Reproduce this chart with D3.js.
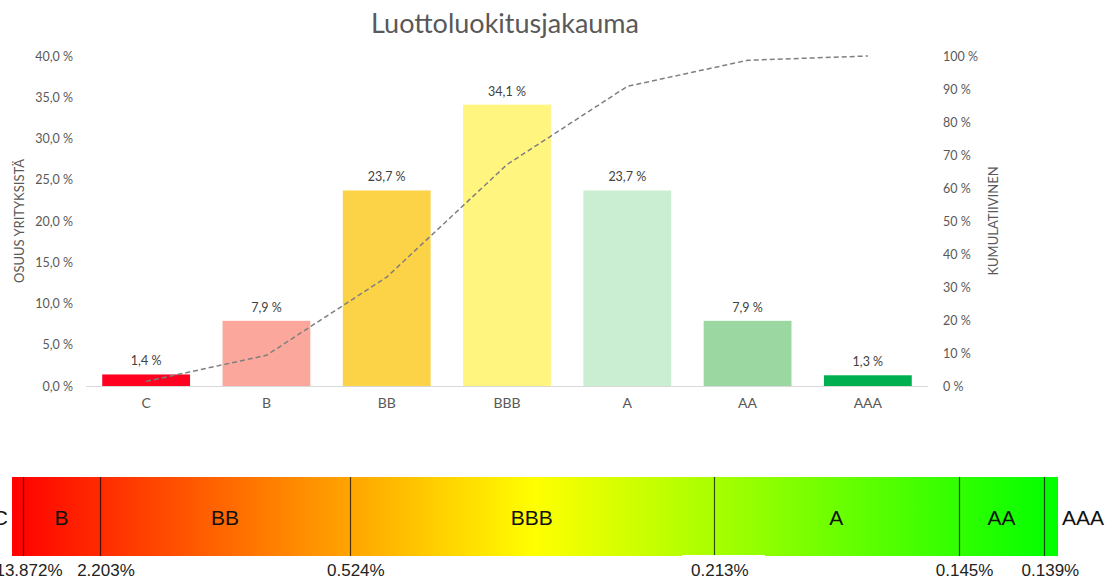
<!DOCTYPE html>
<html>
<head>
<meta charset="utf-8">
<script src="https://cdn.jsdelivr.net/npm/d3@7"></script>
<style>
  html, body { margin: 0; padding: 0; background: #fff; }
  svg { display: block; }
</style>
</head>
<body>
<svg id="chart" width="1116" height="580"></svg>
<script>
// ---- data ----
const categories = ["C", "B", "BB", "BBB", "A", "AA", "AAA"];
const shares = [1.4, 7.9, 23.7, 34.1, 23.7, 7.9, 1.3];
const shareLabels = ["1,4 %", "7,9 %", "23,7 %", "34,1 %", "23,7 %", "7,9 %", "1,3 %"];
const cumulative = [1.4, 9.3, 33.0, 67.1, 90.8, 98.7, 100.0];
const barColors = ["#FF0021", "#FBA79B", "#FCD246", "#FFF57F", "#CAEED1", "#9AD7A1", "#00B050"];
const leftTicks = [0, 5, 10, 15, 20, 25, 30, 35, 40];
const rightTicks = [0, 10, 20, 30, 40, 50, 60, 70, 80, 90, 100];

// scale bar (bottom)
const bandLabels = ["C", "B", "BB", "BBB", "A", "AA", "AAA"];
const dividerPos = [1.05, 8.41, 32.3, 67.1, 90.5, 98.7];   // % of bar width
const thresholdLabels = ["13.872%", "2.203%", "0.524%", "0.213%", "0.145%", "0.139%"];

const svg = d3.select("#chart");
const font = "Lato, 'Open Sans', sans-serif";

// ---- top chart ----
const plot = { left: 86, right: 928, top: 56, bottom: 386 };

const x = d3.scaleBand().domain(categories).range([plot.left, plot.right])
  .paddingInner(0.27).paddingOuter(0.135);
const yL = d3.scaleLinear().domain([0, 40]).range([plot.bottom, plot.top]);
const yR = d3.scaleLinear().domain([0, 100]).range([plot.bottom, plot.top]);

// title
svg.append("text").attr("x", 505).attr("y", 33)
  .attr("text-anchor", "middle").attr("font-family", font)
  .attr("font-size", 27).attr("fill", "#595959").text("Luottoluokitusjakauma");

// left axis
const gL = svg.append("g").attr("transform", `translate(${plot.left},0)`)
  .call(d3.axisLeft(yL).tickValues(leftTicks).tickSize(0).tickPadding(13)
    .tickFormat(d => d.toFixed(1).replace(".", ",") + " %"));
gL.select(".domain").remove();
gL.selectAll("text").attr("font-family", font).attr("font-size", 12.5).attr("fill", "#595959");

// right axis
const gR = svg.append("g").attr("transform", `translate(${plot.right},0)`)
  .call(d3.axisRight(yR).tickValues(rightTicks).tickSize(0).tickPadding(15)
    .tickFormat(d => d + " %"));
gR.select(".domain").remove();
gR.selectAll("text").attr("font-family", font).attr("font-size", 12.5).attr("fill", "#595959");

// bars
svg.append("g").selectAll("rect").data(categories).join("rect")
  .attr("x", d => x(d)).attr("width", x.bandwidth())
  .attr("y", (d, i) => yL(shares[i]))
  .attr("height", (d, i) => yL(0) - yL(shares[i]))
  .attr("fill", (d, i) => barColors[i]);

// baseline
svg.append("line").attr("x1", plot.left).attr("x2", plot.right)
  .attr("y1", plot.bottom + 0.5).attr("y2", plot.bottom + 0.5)
  .attr("stroke", "#D9D9D9").attr("stroke-width", 1);

// category labels
const gX = svg.append("g").attr("transform", `translate(0,${plot.bottom})`)
  .call(d3.axisBottom(x).tickSize(0).tickPadding(12));
gX.select(".domain").remove();
gX.selectAll("text").attr("font-family", font).attr("font-size", 14).attr("fill", "#595959");

// data labels
svg.append("g").selectAll("text").data(categories).join("text")
  .attr("x", d => x(d) + x.bandwidth() / 2)
  .attr("y", (d, i) => yL(shares[i]) - 9)
  .attr("text-anchor", "middle").attr("font-family", font).attr("font-size", 12.5)
  .attr("fill", "#404040").text((d, i) => shareLabels[i]);

// cumulative line
const line = d3.line()
  .x((d, i) => x(categories[i]) + x.bandwidth() / 2)
  .y(d => yR(d));
svg.append("path").datum(cumulative).attr("d", line)
  .attr("fill", "none").attr("stroke", "#7F7F7F").attr("stroke-width", 1.5)
  .attr("stroke-dasharray", "5,3");

// axis titles
svg.append("text").attr("transform", "translate(24,221) rotate(-90)")
  .attr("text-anchor", "middle").attr("font-family", font).attr("font-size", 13)
  .attr("fill", "#595959").text("OSUUS YRITYKSISTÄ");
svg.append("text").attr("transform", "translate(998,221) rotate(-90)")
  .attr("text-anchor", "middle").attr("font-family", font).attr("font-size", 13)
  .attr("fill", "#595959").text("KUMULATIIVINEN");

// ---- bottom gradient scale ----
const sx = d3.scaleLinear().domain([0, 100]).range([12, 1058]);
const barTop = 477, barBottom = 556;
const grad = svg.append("defs").append("linearGradient").attr("id", "rg")
  .attr("x1", "0%").attr("x2", "100%").attr("y1", "0%").attr("y2", "0%");
grad.append("stop").attr("offset", "0%").attr("stop-color", "#FF0000");
grad.append("stop").attr("offset", "50%").attr("stop-color", "#FFFF00");
grad.append("stop").attr("offset", "100%").attr("stop-color", "#00FF00");

svg.append("rect").attr("x", sx(0)).attr("y", barTop)
  .attr("width", sx(100) - sx(0)).attr("height", barBottom - barTop)
  .attr("fill", "url(#rg)");

svg.append("g").selectAll("line").data(dividerPos).join("line")
  .attr("x1", d => Math.round(sx(d)) + 0.5).attr("x2", d => Math.round(sx(d)) + 0.5)
  .attr("y1", barTop).attr("y2", barBottom)
  .attr("stroke", "#000").attr("stroke-opacity", 0.7).attr("stroke-width", 1.2);

// white patch under 0.213%
svg.append("rect").attr("x", 682).attr("y", 555).attr("width", 83).attr("height", 25)
  .attr("fill", "#fff");

const edges = [0].concat(dividerPos).concat([100]);
const bfont = "'Liberation Sans', Arial, sans-serif";
svg.append("g").selectAll("text").data(bandLabels).join("text")
  .attr("x", (d, i) => {
    if (i === 0) return sx(0) - 4;
    if (i === bandLabels.length - 1) return sx(100) + 4;
    return (sx(edges[i]) + sx(edges[i + 1])) / 2;
  })
  .attr("y", 525)
  .attr("text-anchor", (d, i) => i === 0 ? "end" : (i === bandLabels.length - 1 ? "start" : "middle"))
  .attr("font-family", bfont).attr("font-size", 21).attr("fill", "#111")
  .text(d => d);

svg.append("g").selectAll("text").data(thresholdLabels).join("text")
  .attr("x", (d, i) => sx(dividerPos[i]) + 6)
  .attr("y", 576).attr("text-anchor", "middle")
  .attr("font-family", bfont).attr("font-size", 17).attr("fill", "#222")
  .text(d => d);
</script>
</body>
</html>
